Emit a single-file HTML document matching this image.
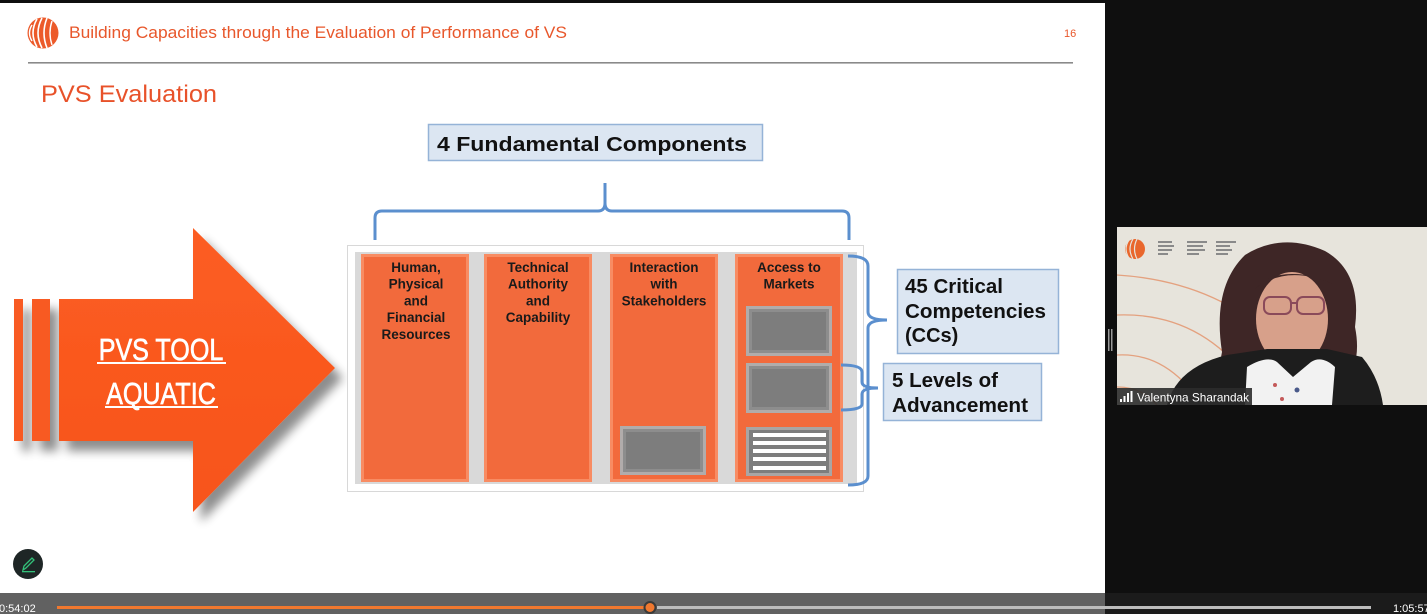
<!DOCTYPE html>
<html>
<head>
<meta charset="utf-8">
<style>
  html,body{margin:0;padding:0;background:#0f0f0f;}
  body{width:1427px;height:614px;overflow:hidden;position:relative;}
  svg{display:block;}
  text{font-family:"Liberation Sans",Arial,sans-serif;}
</style>
</head>
<body>
<svg width="1427" height="614" viewBox="0 0 1427 614" xmlns="http://www.w3.org/2000/svg">
  <defs>
    <filter id="shadow" x="-20%" y="-20%" width="150%" height="150%">
      <feGaussianBlur in="SourceAlpha" stdDeviation="5"/>
      <feOffset dx="8" dy="10" result="o"/>
      <feComponentTransfer><feFuncA type="linear" slope="0.45"/></feComponentTransfer>
      <feMerge><feMergeNode/><feMergeNode in="SourceGraphic"/></feMerge>
    </filter>
    <linearGradient id="arrowG" x1="0" y1="0" x2="0" y2="1">
      <stop offset="0" stop-color="#fc5d22"/>
      <stop offset="1" stop-color="#f7541b"/>
    </linearGradient>
  </defs>

  <!-- backgrounds -->
  <rect x="0" y="0" width="1427" height="614" fill="#0f0f0f"/>
  <rect x="0" y="3" width="1105" height="590" fill="#ffffff"/>

  <!-- header -->
  <g transform="translate(43,33)">
    <circle cx="0" cy="0" r="15.5" fill="#ec5a2a"/>
    <path d="M-6,-14 Q-14,0 -6,14" stroke="#fff" stroke-width="1.6" fill="none"/>
    <path d="M-1,-15 Q-9,0 -1,15" stroke="#fff" stroke-width="1.6" fill="none"/>
    <path d="M4,-15 Q-2,0 4,15" stroke="#fff" stroke-width="1.6" fill="none"/>
    <path d="M9,-12 Q5,0 9,12" stroke="#fff" stroke-width="1.4" fill="none"/>
    <path d="M-11,-8 Q-16,0 -11,8" stroke="#fff" stroke-width="1.4" fill="none"/>
  </g>
  <text x="69" y="38" font-size="17" fill="#e8572b" textLength="498" lengthAdjust="spacingAndGlyphs">Building Capacities through the Evaluation of Performance of VS</text>
  <text x="1064" y="37" font-size="11" fill="#e8572b">16</text>
  <rect x="28" y="62" width="1045" height="1.6" fill="#8a8a8a"/>
  <text x="41" y="102" font-size="24" fill="#e8522a" textLength="176" lengthAdjust="spacingAndGlyphs">PVS Evaluation</text>

  <!-- big arrow -->
  <g filter="url(#shadow)">
    <rect x="14" y="299" width="9" height="142" fill="#f85a20"/>
    <rect x="32" y="299" width="18" height="142" fill="#f85a20"/>
    <polygon points="59,299 193,299 193,228 335,368 193,512 193,441 59,441" fill="url(#arrowG)"/>
  </g>
  <g transform="translate(161,0) scale(0.81,1)">
    <text x="0" y="360" font-size="31" fill="#ffffff" stroke="#ffffff" stroke-width="0.7" text-anchor="middle">PVS TOOL</text>
    <text x="0" y="404" font-size="31" fill="#ffffff" stroke="#ffffff" stroke-width="0.7" text-anchor="middle">AQUATIC</text>
  </g>
  <rect x="97" y="362" width="129" height="2" fill="#fff"/>
  <rect x="105" y="406" width="113" height="2" fill="#fff"/>

  <!-- 4 Fundamental Components box -->
  <rect x="428.5" y="124.5" width="334" height="36" fill="#dce6f2" stroke="#95b3d7" stroke-width="1.5"/>
  <text x="437" y="151" font-size="20" font-weight="bold" fill="#111" textLength="310" lengthAdjust="spacingAndGlyphs">4 Fundamental Components</text>

  <!-- top brace -->
  <path d="M375,240 L375,218 Q375,211 382,211 L598,211 Q605,211 605,203 L605,183 M605,203 Q605,211 612,211 L842,211 Q849,211 849,218 L849,240"
        stroke="#5b8fce" stroke-width="3" fill="none"/>

  <!-- container -->
  <rect x="347.5" y="245.5" width="516" height="246" fill="#ffffff" stroke="#d8d8d8" stroke-width="1"/>
  <rect x="355" y="252" width="502" height="232" fill="#d9d9d9"/>

  <!-- columns -->
  <g>
    <rect x="361" y="254" width="108" height="228" fill="#f26a3c"/>
    <rect x="362.5" y="255.5" width="105" height="225" fill="none" stroke="#f88c63" stroke-width="3"/>
    <rect x="484" y="254" width="108" height="228" fill="#f26a3c"/>
    <rect x="485.5" y="255.5" width="105" height="225" fill="none" stroke="#f88c63" stroke-width="3"/>
    <rect x="610" y="254" width="108" height="228" fill="#f26a3c"/>
    <rect x="611.5" y="255.5" width="105" height="225" fill="none" stroke="#f88c63" stroke-width="3"/>
    <rect x="735" y="254" width="108" height="228" fill="#f26a3c"/>
    <rect x="736.5" y="255.5" width="105" height="225" fill="none" stroke="#f88c63" stroke-width="3"/>
  </g>
  <g font-size="13.5" font-weight="bold" fill="#1a1a1a" text-anchor="middle">
    <text x="416" y="272">Human,</text>
    <text x="416" y="288.7">Physical</text>
    <text x="416" y="305.4">and</text>
    <text x="416" y="322.1">Financial</text>
    <text x="416" y="338.8">Resources</text>
    <text x="538" y="272">Technical</text>
    <text x="538" y="288.7">Authority</text>
    <text x="538" y="305.4">and</text>
    <text x="538" y="322.1">Capability</text>
    <text x="664" y="272">Interaction</text>
    <text x="664" y="288.7">with</text>
    <text x="664" y="305.4">Stakeholders</text>
    <text x="789" y="272">Access to</text>
    <text x="789" y="288.7">Markets</text>
  </g>

  <!-- grey boxes -->
  <g>
    <rect x="746" y="306" width="86" height="50" fill="#b1acab"/>
    <rect x="749" y="309" width="80" height="44" fill="#8d8d8d"/>
    <rect x="752" y="312" width="74" height="38" fill="#7d7d7d"/>

    <rect x="746" y="363" width="86" height="50" fill="#b1acab"/>
    <rect x="749" y="366" width="80" height="44" fill="#8d8d8d"/>
    <rect x="752" y="369" width="74" height="38" fill="#7d7d7d"/>

    <rect x="746" y="427" width="86" height="49" fill="#a9a5a4"/>
    <rect x="749" y="430" width="80" height="43" fill="#7d7d7d"/>
    <rect x="753" y="433" width="73" height="4" fill="#ffffff"/>
    <rect x="753" y="441" width="73" height="4" fill="#ffffff"/>
    <rect x="753" y="449" width="73" height="4" fill="#ffffff"/>
    <rect x="753" y="457" width="73" height="4" fill="#ffffff"/>
    <rect x="753" y="466" width="73" height="4" fill="#ffffff"/>

    <rect x="620" y="426" width="86" height="49" fill="#b1acab"/>
    <rect x="623" y="429" width="80" height="43" fill="#8d8d8d"/>
    <rect x="626" y="432" width="74" height="37" fill="#7d7d7d"/>
  </g>

  <!-- right braces -->
  <path d="M848,256 Q868,256 868,266 L868,312 Q868,320 887,320 M868,328 Q868,320 887,320 M868,328 L868,476 Q868,485 848,485"
        stroke="#5b8fce" stroke-width="3" fill="none"/>
  <path d="M841,365 Q862,365 862,372 L862,382 Q862,388 878,388 M862,394 Q862,388 878,388 M862,394 L862,404 Q862,410 841,410"
        stroke="#5b8fce" stroke-width="3" fill="none"/>

  <!-- label boxes -->
  <rect x="897.5" y="269.5" width="161" height="84" fill="#dce6f2" stroke="#95b3d7" stroke-width="1.5"/>
  <g font-size="20" font-weight="bold" fill="#111">
    <text x="905" y="293" textLength="98" lengthAdjust="spacingAndGlyphs">45 Critical</text>
    <text x="905" y="318" textLength="141" lengthAdjust="spacingAndGlyphs">Competencies</text>
    <text x="905" y="342">(CCs)</text>
  </g>
  <rect x="883.5" y="363.5" width="158" height="57" fill="#dce6f2" stroke="#95b3d7" stroke-width="1.5"/>
  <g font-size="20" font-weight="bold" fill="#111">
    <text x="892" y="387" textLength="106" lengthAdjust="spacingAndGlyphs">5 Levels of</text>
    <text x="892" y="412" textLength="136" lengthAdjust="spacingAndGlyphs">Advancement</text>
  </g>

  <!-- pencil button -->
  <circle cx="28" cy="564" r="15" fill="#1e2626"/>
  <path d="M23,570 L24,566 L32,558 L34,560 L26,568 Z" fill="none" stroke="#33c27a" stroke-width="1.3"/>
  <rect x="22" y="571" width="13" height="1.3" fill="#33c27a"/>

  <!-- video panel -->
  <rect x="1108" y="329" width="1.5" height="22" fill="#9a9a9a"/>
  <rect x="1111" y="329" width="1.5" height="22" fill="#9a9a9a"/>
  <svg x="1117" y="227" width="310" height="178" viewBox="0 0 310 178">
    <rect width="310" height="178" fill="#e7e4dc"/>
    <g fill="none" stroke="#e4a17f" stroke-width="1.3">
      <path d="M0,48 Q110,55 175,130"/>
      <path d="M0,88 Q80,85 130,150"/>
      <path d="M0,128 Q50,125 85,178"/>
      <path d="M0,160 Q25,160 40,178"/>
    </g>
    <circle cx="18" cy="22" r="10" fill="#e9672d"/>
    <path d="M12,13 Q6,22 12,31 M16,12 Q10,22 16,32 M20,12 Q15,22 20,32" stroke="#e7e4dc" stroke-width="1.2" fill="none"/>
    <g fill="#8a8a8a">
      <rect x="41" y="14" width="14" height="2"/><rect x="41" y="18" width="16" height="2"/><rect x="41" y="22" width="14" height="2"/><rect x="41" y="26" width="10" height="2"/>
      <rect x="70" y="14" width="20" height="2"/><rect x="70" y="18" width="16" height="2"/><rect x="70" y="22" width="18" height="2"/><rect x="70" y="26" width="12" height="2"/>
      <rect x="99" y="14" width="20" height="2"/><rect x="99" y="18" width="14" height="2"/><rect x="99" y="22" width="16" height="2"/><rect x="99" y="26" width="12" height="2"/>
    </g>
    <!-- hair -->
    <path d="M105,125 Q95,60 128,28 Q165,5 208,24 Q245,45 238,100 Q245,135 228,155 L118,155 Q100,145 105,125 Z" fill="#3e2626"/>
    <!-- face -->
    <ellipse cx="175" cy="92" rx="36" ry="47" fill="#d7a08a"/>
    <path d="M138,62 Q170,37 215,57 Q200,47 175,47 Q150,47 138,62 Z" fill="#3e2626"/>
    <!-- glasses -->
    <rect x="147" y="70" width="27" height="17" rx="6" fill="none" stroke="#8a4a5a" stroke-width="2"/>
    <rect x="180" y="70" width="27" height="17" rx="6" fill="none" stroke="#8a4a5a" stroke-width="2"/>
    <path d="M174,76 L180,76" stroke="#8a4a5a" stroke-width="2"/>
    <!-- neck -->
    <rect x="158" y="127" width="36" height="22" fill="#c9927c"/>
    <!-- body -->
    <path d="M50,178 Q60,140 110,128 L150,122 L210,122 L245,130 Q262,150 266,178 Z" fill="#1d1d1d"/>
    <path d="M128,178 L130,140 Q150,128 160,135 L176,150 L194,135 Q205,128 218,140 L215,178 Z" fill="#f2f2f2"/>
    <circle cx="158" cy="158" r="2" fill="#c45a5a"/>
    <circle cx="180" cy="163" r="2.5" fill="#4a5a8a"/>
    <circle cx="165" cy="172" r="2" fill="#c45a5a"/>
    <!-- name label -->
    <rect x="0" y="161" width="135" height="17" fill="#2c2c2c" opacity="0.9"/>
    <rect x="3" y="172" width="2" height="3" fill="#fff"/>
    <rect x="6.5" y="169" width="2" height="6" fill="#fff"/>
    <rect x="10" y="166" width="2" height="9" fill="#fff"/>
    <rect x="13.5" y="164" width="2" height="11" fill="#fff"/>
    <text x="20" y="174.5" font-size="12" fill="#ffffff" textLength="112" lengthAdjust="spacingAndGlyphs">Valentyna Sharandak</text>
  </svg>

  <!-- bottom bar -->
  <rect x="0" y="593" width="1105" height="21" fill="#616161"/>
  <rect x="1105" y="593" width="322" height="21" fill="#1b1b1b"/>
  <rect x="657" y="606" width="714" height="3" fill="#bcbcbc"/>
  <rect x="57" y="606" width="593" height="3" fill="#f0782f"/>
  <circle cx="650" cy="607.5" r="6.5" fill="#3a3a3a"/>
  <circle cx="650" cy="607.5" r="4.5" fill="#f0782f"/>
  <text x="-1" y="612" font-size="11" fill="#ffffff">0:54:02</text>
  <text x="1393" y="612" font-size="11" fill="#ffffff">1:05:57</text>
</svg>
</body>
</html>
